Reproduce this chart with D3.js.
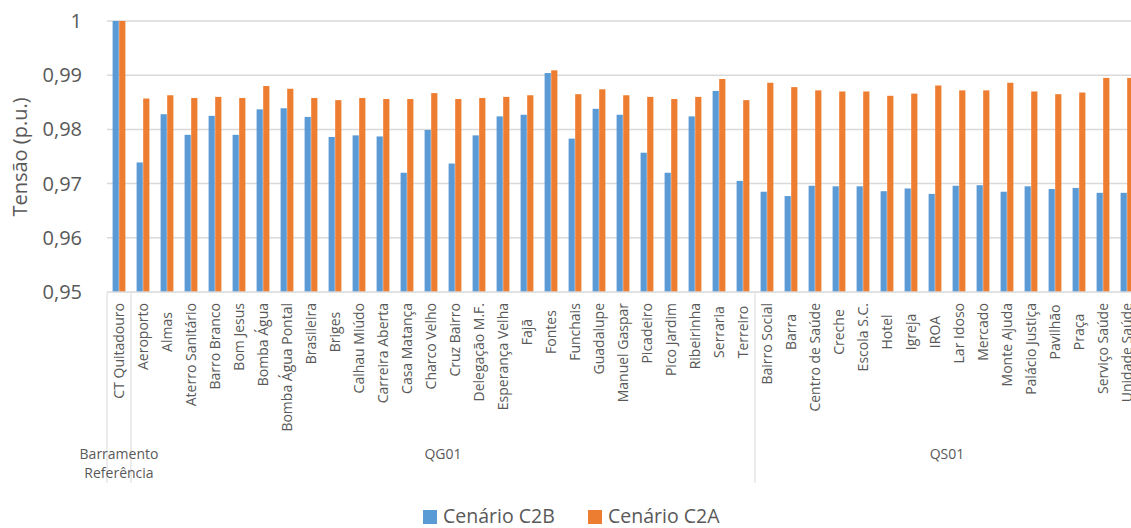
<!DOCTYPE html>
<html>
<head>
<meta charset="utf-8">
<script src="https://cdn.jsdelivr.net/npm/d3@7"></script>
<style>
  html, body { margin: 0; padding: 0; background: #fff; }
  svg { display: block; font-family: "Open Sans", sans-serif; }
</style>
</head>
<body>
<svg id="chart" width="1131" height="528"></svg>
<script>
const categories = ["CT Quitadouro","Aeroporto","Almas","Aterro Sanitário","Barro Branco","Bom Jesus","Bomba Água","Bomba Água Pontal","Brasileira","Briges","Calhau Miúdo","Carreira Aberta","Casa Matança","Charco Velho","Cruz Bairro","Delegação M.F.","Esperança Velha","Fajã","Fontes","Funchais","Guadalupe","Manuel Gaspar","Picadeiro","Pico Jardim","Ribeirinha","Serraria","Terreiro","Bairro Social","Barra","Centro de Saúde","Creche","Escola S.C.","Hotel","Igreja","IROA","Lar Idoso","Mercado","Monte Ajuda","Palácio Justiça","Pavilhão","Praça","Serviço Saúde","Unidade Saúde"];
const groupNames = [["Barramento","Referência"],["QG01"],["QS01"]];
const groupSizes = [1, 26, 16];
const seriesNames = ["Cenário C2B","Cenário C2A"];
const c2b = [1.0,
  0.9739,0.9828,0.9790,0.9825,0.9790,0.9837,0.9839,0.9823,0.9786,0.9789,0.9787,0.9720,0.9799,0.9737,0.9789,0.9824,0.9827,0.9904,0.9783,0.9838,0.9827,0.9757,0.9720,0.9824,0.9871,0.9705,
  0.9685,0.9677,0.9696,0.9695,0.9695,0.9686,0.9691,0.9681,0.9696,0.9697,0.9685,0.9695,0.9690,0.9692,0.9683,0.9683];
const c2a = [1.0,
  0.9857,0.9863,0.9858,0.9860,0.9858,0.9880,0.9875,0.9858,0.9854,0.9858,0.9856,0.9856,0.9867,0.9856,0.9858,0.9860,0.9863,0.9909,0.9865,0.9874,0.9863,0.9860,0.9856,0.9860,0.9893,0.9854,
  0.9886,0.9878,0.9872,0.9870,0.9870,0.9862,0.9866,0.9881,0.9872,0.9872,0.9886,0.9870,0.9865,0.9868,0.9895,0.9895];
const yTicks = [0.95, 0.96, 0.97, 0.98, 0.99, 1];
const yTickLabels = ["0,95","0,96","0,97","0,98","0,99","1"];
const colors = ["#5B9BD5", "#ED7D31"];

const textColor = "#595959";
const gridColor = "#d9d9d9";
const svg = d3.select("#chart");

const mLeft = 107, mRight = 1139, mTop = 21, mBottom = 292;
const x0 = d3.scaleBand().domain(categories).range([mLeft, mRight]).padding(0);
const x1 = d3.scaleBand().domain(seriesNames).range([0, x0.bandwidth()]).paddingOuter(0.85).paddingInner(0.06);
const y = d3.scaleLinear().domain([0.95, 1]).range([mBottom, mTop]);

// gridlines
svg.append("g").selectAll("line").data(yTicks.slice(1)).join("line")
  .attr("x1", mLeft).attr("x2", mRight)
  .attr("y1", d => y(d)).attr("y2", d => y(d))
  .attr("stroke", gridColor).attr("stroke-width", 1.5);

// y axis
const yAxis = d3.axisLeft(y).tickValues(yTicks).tickSize(0).tickPadding(25)
  .tickFormat((d, i) => yTickLabels[i]);
const gy = svg.append("g").attr("transform", `translate(${mLeft},0)`).call(yAxis);
gy.select(".domain").remove();
gy.selectAll("text").attr("fill", textColor).style("font-size", "20px").style("font-family", "'Open Sans', sans-serif");

// bars
const data = categories.map((c, i) => ({cat: c, vals: [c2b[i], c2a[i]]}));
const gBars = svg.append("g").selectAll("g").data(data).join("g")
  .attr("transform", d => `translate(${x0(d.cat)},0)`);
gBars.selectAll("rect").data(d => d.vals.map((v, k) => ({s: seriesNames[k], v, k}))).join("rect")
  .attr("x", d => x1(d.s))
  .attr("width", x1.bandwidth())
  .attr("y", d => y(d.v))
  .attr("height", d => y(0.95) - y(d.v))
  .attr("fill", d => colors[d.k]);

// x axis baseline
svg.append("line").attr("x1", mLeft).attr("x2", mRight).attr("y1", mBottom).attr("y2", mBottom)
  .attr("stroke", gridColor).attr("stroke-width", 1.5);

// group separators
let bounds = [0];
groupSizes.forEach(s => bounds.push(bounds[bounds.length - 1] + s));
const sepX = bounds.map(b => b < categories.length ? x0(categories[b]) : mRight);
svg.append("g").selectAll("line").data(sepX).join("line")
  .attr("x1", d => d).attr("x2", d => d)
  .attr("y1", mBottom).attr("y2", 483)
  .attr("stroke", gridColor).attr("stroke-width", 1);

// category labels
const labelG = svg.append("g");
categories.forEach(c => {
  const cx = x0(c) + x0.bandwidth() / 2;
  const t = labelG.append("text")
    .attr("text-anchor", "end")
    .attr("dy", "0.35em")
    .attr("fill", textColor)
    .style("font-size", "14px")
    .text(c);
  const len = t.node().getComputedTextLength();
  const yTop = 303 + Math.max(0, (58 - len) / 2);
  t.attr("transform", `translate(${cx},${yTop}) rotate(-90)`);
});

// group labels
groupNames.forEach((lines, gi) => {
  const cx = (sepX[gi] + sepX[gi + 1]) / 2;
  const t = svg.append("text").attr("text-anchor", "middle").attr("fill", textColor)
    .style("font-size", "14px");
  lines.forEach((ln, li) => {
    t.append("tspan").attr("x", cx).attr("y", 459 + li * 19).text(ln);
  });
});

// y axis title
svg.append("text")
  .attr("transform", `translate(20,157) rotate(-90)`)
  .attr("text-anchor", "middle").attr("dy", "0.35em")
  .attr("fill", textColor).style("font-size", "20px")
  .text("Tensão (p.u.)");

// legend
const legendX = [423, 588];
const lg = svg.append("g").selectAll("g").data(seriesNames).join("g")
  .attr("transform", (d, i) => `translate(${legendX[i]},510)`);
lg.append("rect").attr("width", 14).attr("height", 14).attr("fill", (d, i) => colors[i]);
lg.append("text").attr("x", 20).attr("y", 13)
  .attr("fill", textColor).style("font-size", "19.5px").text(d => d);
</script>
</body>
</html>
